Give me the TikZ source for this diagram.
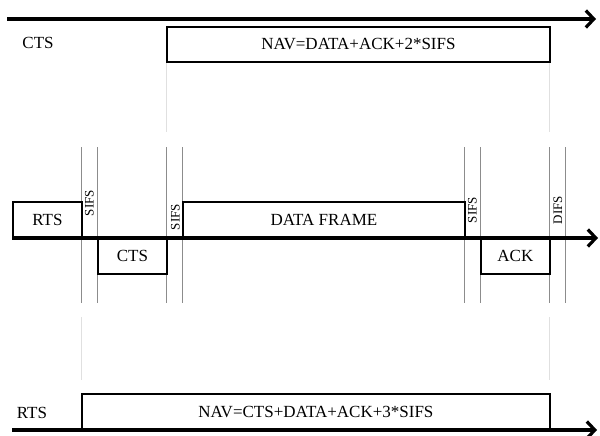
\documentclass[tikz,border=0pt]{standalone}
\usepackage{fontspec}
\setmainfont{Liberation Serif}
\usetikzlibrary{arrows.meta,positioning}

\begin{document}
\begin{tikzpicture}[
    x=1pt, y=-1pt,
    every node/.style={font=\fontsize{17}{19}\selectfont, inner sep=0pt},
    frame/.style={rectangle, draw, line width=1.8pt, minimum height=35pt},
    slot/.style={frame, minimum width=69pt},
    timeaxis/.style={-{Straight Barb[length=8pt, width=17pt]}, line width=3.2pt},
    guide/.style={draw=black!45, line width=0.7pt},
    faint/.style={draw=black!12, line width=0.7pt},
    gap/.style={rotate=90, font=\fontsize{13}{14}\selectfont}
]
\useasboundingbox (0,0) rectangle (600,436);

% guide lines of the exchange
\foreach \gx in {81,97,166,182,464,480,549,565}
    \draw[guide] (\gx,147) -- (\gx,303);
\draw[faint] (166,61) -- (166,132);
\draw[faint] (549,61) -- (549,132);
\draw[faint] (81,317) -- (81,380);
\draw[faint] (549,317) -- (549,380);

% station that hears the CTS
\node[frame, minimum width=383pt, anchor=north west] (navcts) at (166,26) {NAV=DATA+ACK+2*SIFS};
\node (ctslabel) at (38,43) {CTS};

% sender and receiver
\node[slot, anchor=south west] (rts) at (12,238) {RTS};
\node[slot, anchor=north west] (cts) at (97,238) {CTS};
\node[frame, minimum width=282pt, anchor=south west] (data) at (182,238) {DATA FRAME};
\node[slot, anchor=north west] (ack) at (480,238) {ACK};

\node[gap] (sifsa) at (89.5,203) {SIFS};
\node[gap] (sifsb) at (175.5,217) {SIFS};
\node[gap] (sifsc) at (472.5,210) {SIFS};
\node[gap] (difs) at (558,210) {DIFS};

% station that hears the RTS
\node[frame, minimum width=468pt, anchor=south west] (navrts) at (81,430) {NAV=CTS+DATA+ACK+3*SIFS};
\node (rtslabel) at (32,413) {RTS};

% time axes
\draw[timeaxis] (7,19) -- (596,19);
\draw[timeaxis] (12,238) -- (598,238);
\draw[timeaxis] (12,430) -- (597,430);
\end{tikzpicture}
\end{document}
